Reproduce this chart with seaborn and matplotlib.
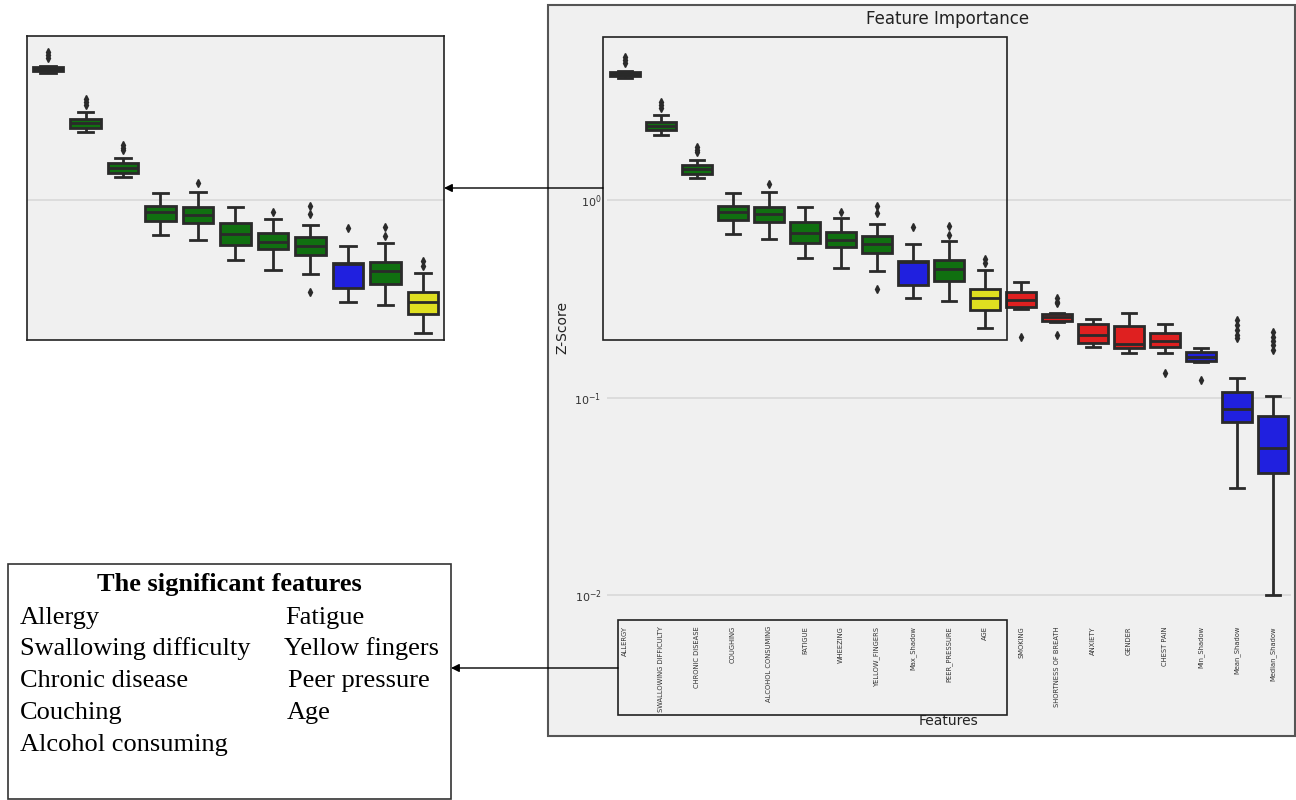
import numpy as np
import pandas as pd
import matplotlib
matplotlib.use("Agg")
import matplotlib.pyplot as plt
import seaborn as sns
from matplotlib.patches import Rectangle, FancyArrowPatch
from matplotlib.ticker import LogLocator, NullLocator

# ---------------- data ----------------
features = ["ALLERGY", "SWALLOWING DIFFICULTY", "CHRONIC DISEASE", "COUGHING",
            "ALCOHOL CONSUMING", "FATIGUE", "WHEEZING", "YELLOW_FINGERS",
            "Max_Shadow", "PEER_PRESSURE", "AGE", "SMOKING",
            "SHORTNESS OF BREATH", "ANXIETY", "GENDER", "CHEST PAIN",
            "Min_Shadow", "Mean_Shadow", "Median_Shadow"]
decision = ["accepted", "accepted", "accepted", "accepted", "accepted",
            "accepted", "accepted", "accepted", "shadow", "accepted",
            "tentative", "rejected", "rejected", "rejected", "rejected",
            "rejected", "shadow", "shadow", "shadow"]
whisker_low = [4.15, 2.14, 1.29, 0.673, 0.635, 0.508, 0.453, 0.437, 0.319, 0.308,
               0.2248, 0.2807, 0.241, 0.1808, 0.1686, 0.1674, 0.1508, 0.0348, 0.0100]
q1 = [4.25, 2.25, 1.355, 0.792, 0.774, 0.606, 0.578, 0.539, 0.371, 0.389,
      0.2774, 0.2872, 0.2438, 0.188, 0.1775, 0.1808, 0.1531, 0.0751, 0.0415]
median = [4.34, 2.37, 1.44, 0.869, 0.849, 0.681, 0.627, 0.599, 0.486, 0.448,
          0.319, 0.3134, 0.256, 0.2072, 0.1866, 0.1939, 0.161, 0.0875, 0.0555]
q3 = [4.45, 2.48, 1.51, 0.932, 0.922, 0.774, 0.688, 0.657, 0.491, 0.497,
      0.354, 0.342, 0.265, 0.2355, 0.2309, 0.2114, 0.1694, 0.1066, 0.0806]
whisker_high = [4.50, 2.70, 1.60, 1.085, 1.098, 0.922, 0.811, 0.756, 0.599, 0.620,
                0.442, 0.3846, 0.268, 0.2489, 0.2668, 0.2356, 0.1787, 0.1255, 0.1018]
outliers_high = [[4.94, 5.11, 5.30], [2.92, 3.02, 3.12], [1.76, 1.80, 1.85], [],
                 [1.205], [], [0.869], [0.859, 0.932], [0.730], [0.668, 0.739],
                 [0.478, 0.503], [], [0.300, 0.305, 0.319], [], [], [], [],
                 [0.200, 0.207, 0.220, 0.233, 0.247],
                 [0.174, 0.185, 0.193, 0.203, 0.215]]
outliers_low = [[], [], [], [], [], [], [], [0.355], [], [], [], [0.202], [0.208],
                [], [], [0.133], [0.1227], [], []]
decision_colors = {"accepted": "green", "tentative": "yellow",
                   "rejected": "red", "shadow": "blue"}

box_title = "The significant features"
significant_left = ["Allergy", "Swallowing difficulty", "Chronic disease",
                    "Couching", "Alcohol consuming"]
significant_right = ["Fatigue", "Yellow fingers", "Peer pressure", "Age"]


# build per-feature samples whose box-plot statistics equal the values read
def build_sample(lo, a1, md, a3, hi, out_lo, out_hi):
    na, nb = len(out_lo), len(out_hi)
    k = max(na, nb) + 2
    vals = (sorted(out_lo) + [lo] + [a1] * (k - na) + [md] * k + [a3] * k
            + [a3] * (k - nb - 1) + [hi] + sorted(out_hi))
    return vals


rows = []
for i, f in enumerate(features):
    for v in build_sample(whisker_low[i], q1[i], median[i], q3[i], whisker_high[i],
                          outliers_low[i], outliers_high[i]):
        rows.append((f, v))
df = pd.DataFrame(rows, columns=["Features", "Z-Score"])
palette = {f: decision_colors[d] for f, d in zip(features, decision)}

# ---------------- figure ----------------
W, H = 1296, 800
fig = plt.figure(figsize=(W / 100, H / 100), dpi=100)
fig.patch.set_facecolor("white")


def fx(x):
    return x / W


def fy(y):
    return 1 - y / H


def px_rect(x0, y0, x1, y1):
    return [fx(x0), fy(y1), (x1 - x0) / W, (y1 - y0) / H]


LINE = "#2a2a2a"


def draw(ax):
    sns.boxplot(data=df, x="Features", y="Z-Score", hue="Features",
                order=features, hue_order=features, palette=palette,
                legend=False, ax=ax, linecolor=LINE, linewidth=2.0, width=0.82,
                flierprops=dict(marker="d", markersize=4,
                                markerfacecolor=LINE, markeredgecolor=LINE))
    ax.set_yscale("log")
    ax.set_facecolor("#f0f0f0")
    ax.yaxis.set_major_locator(LogLocator(base=10, numticks=10))
    ax.yaxis.set_minor_locator(NullLocator())
    ax.set_axisbelow(True)
    ax.yaxis.grid(True, color="#d9d9d9", linewidth=1.2)
    ax.xaxis.grid(False)
    ax.set_xlabel("")
    ax.set_ylabel("")


# outer frame of the chart image
fig.patches.append(Rectangle((fx(548), fy(736)), (1295 - 548) / W, (736 - 5) / H,
                             transform=fig.transFigure, facecolor="#f0f0f0",
                             edgecolor="#555555", linewidth=1.5, zorder=-5))

# main axes
ax = fig.add_axes(px_rect(607, 30, 1291, 615))
draw(ax)
ax.set_xlim(-0.5, 18.5)
ax.set_ylim(10 ** -2.101, 10 ** 0.861)
for s in ax.spines.values():
    s.set_visible(False)
ax.tick_params(axis="y", length=0, labelsize=8, labelcolor="#333333", pad=4)
ax.tick_params(axis="x", length=0, labelsize=4.9, labelcolor="#333333",
               rotation=90, pad=8)
for lab in ax.get_xticklabels():
    lab.set_verticalalignment("top")

fig.text(fx(948), fy(19), "Feature Importance", ha="center", va="center",
         fontsize=12, color="#222222")
fig.text(fx(562), fy(328), "Z-Score", ha="center", va="center", rotation=90,
         fontsize=10, color="#222222")
fig.text(fx(948), fy(721), "Features", ha="center", va="center",
         fontsize=10, color="#222222")

# inset (magnified region)
axi = fig.add_axes(px_rect(27, 36, 444, 340))
draw(axi)
axi.set_xlim(-0.56, 10.56)
axi.set_ylim(10 ** -0.683, 10 ** 0.80)
axi.tick_params(length=0, labelleft=False, labelbottom=False)
for s in axi.spines.values():
    s.set_visible(True)
    s.set_color("#222222")
    s.set_linewidth(1.2)

# highlight rectangles on the main chart
for (x0, y0, x1, y1) in [(603, 37, 1007, 340), (618, 620, 1007, 715)]:
    fig.patches.append(Rectangle((fx(x0), fy(y1)), (x1 - x0) / W, (y1 - y0) / H,
                                 transform=fig.transFigure, fill=False,
                                 edgecolor="#222222", linewidth=1.2, zorder=5))

# arrows
for (xa, ya, xb, yb) in [(603, 188, 444, 188), (618, 668, 451, 668)]:
    fig.patches.append(FancyArrowPatch((fx(xa), fy(ya)), (fx(xb), fy(yb)),
                                       transform=fig.transFigure,
                                       arrowstyle="-|>", mutation_scale=12,
                                       color="black", linewidth=1,
                                       shrinkA=0, shrinkB=0, zorder=6))

# text box with significant features
fig.patches.append(Rectangle((fx(8), fy(799)), (451 - 8) / W, (799 - 564) / H,
                             transform=fig.transFigure, facecolor="white",
                             edgecolor="#333333", linewidth=1.2, zorder=2))
serif = ["Liberation Serif", "DejaVu Serif"]
fig.text(fx(229), fy(585), box_title, ha="center", va="center",
         fontsize=19, fontweight="bold", family=serif, zorder=3)
row_y = [618, 649, 681, 713, 745]
for i, t in enumerate(significant_left):
    fig.text(fx(20), fy(row_y[i]), t, ha="left", va="center", fontsize=19,
             family=serif, zorder=3)
right_x = [285, 284, 288, 287]
for i, t in enumerate(significant_right):
    fig.text(fx(right_x[i]), fy(row_y[i]), t, ha="left", va="center",
             fontsize=19, family=serif, zorder=3)

fig.savefig("out.png", dpi=100, facecolor="white")
